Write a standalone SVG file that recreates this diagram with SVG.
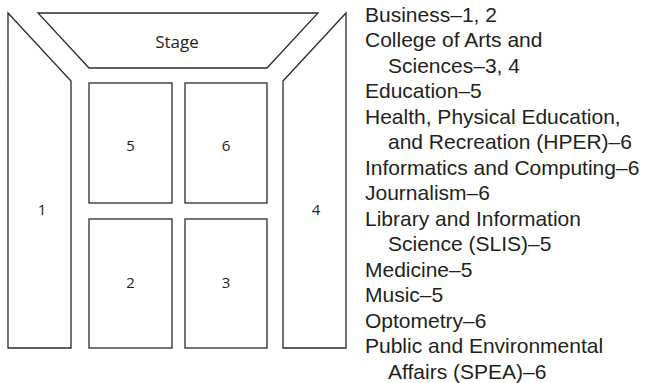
<svg xmlns="http://www.w3.org/2000/svg" width="649" height="383" viewBox="0 0 649 383">
<style>
.sh{fill:#fff;stroke:#2b2b2b;stroke-width:1.3;stroke-linejoin:miter}
.lbl{font-family:"Open Sans","Noto Sans",sans-serif;font-size:15px;fill:#231f20;text-anchor:middle}
.st{font-size:17px}
.key{font-family:"Liberation Sans",Arial,sans-serif;font-size:21px;fill:#231f20}
</style>
<rect width="649" height="383" fill="#fff"/>
<g id="stage"><polygon class="sh" points="38,13 318,13 267,68 89,68"/><text class="lbl st" x="177" y="47.5">Stage</text></g>
<g id="sec1"><polygon class="sh" points="8,13 71,81 71,348 8,348"/><text class="lbl" x="42" y="215">1</text></g>
<g id="sec4"><polygon class="sh" points="283,81 346,13 346,348 283,348"/><text class="lbl" x="316" y="215">4</text></g>
<g id="sec5"><rect class="sh" x="89" y="83" width="83" height="120"/><text class="lbl" x="130.5" y="151">5</text></g>
<g id="sec6"><rect class="sh" x="185" y="83" width="82" height="120"/><text class="lbl" x="226" y="151">6</text></g>
<g id="sec2"><rect class="sh" x="89" y="219" width="83" height="129"/><text class="lbl" x="130.5" y="288">2</text></g>
<g id="sec3"><rect class="sh" x="185" y="219" width="82" height="129"/><text class="lbl" x="226" y="288">3</text></g>
<g id="connectors"></g>
<g id="key" class="key">
<text x="365" y="21.5">Business–1, 2</text>
<text x="365" y="47">College of Arts and</text>
<text x="388" y="72.5">Sciences–3, 4</text>
<text x="365" y="98">Education–5</text>
<text x="365" y="123.5">Health, Physical Education,</text>
<text x="388" y="149">and Recreation (HPER)–6</text>
<text x="365" y="174.5">Informatics and Computing–6</text>
<text x="365" y="200">Journalism–6</text>
<text x="365" y="225.5">Library and Information</text>
<text x="388" y="251">Science (SLIS)–5</text>
<text x="365" y="276.5">Medicine–5</text>
<text x="365" y="302">Music–5</text>
<text x="365" y="327.5">Optometry–6</text>
<text x="365" y="353">Public and Environmental</text>
<text x="388" y="378.5">Affairs (SPEA)–6</text>
</g>
</svg>
